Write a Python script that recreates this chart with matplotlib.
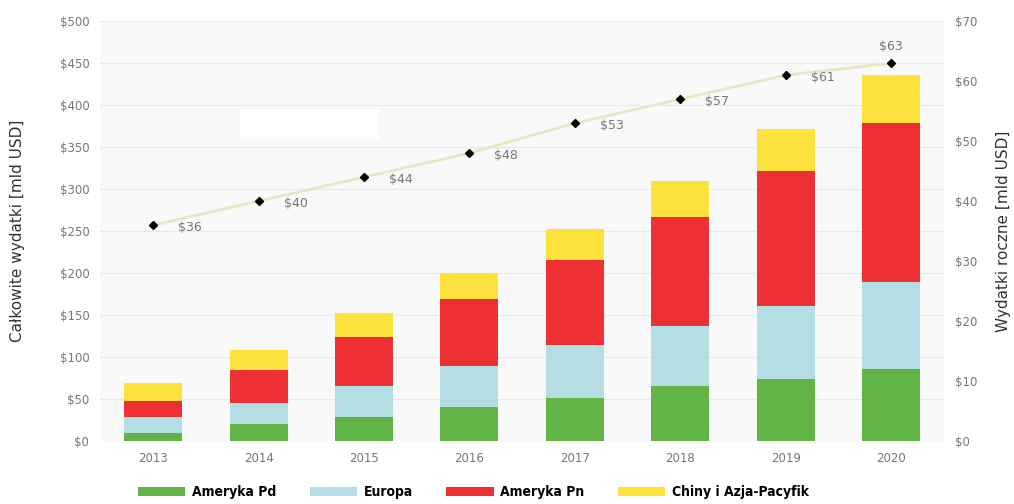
import numpy as np
import matplotlib
matplotlib.use("Agg")
import matplotlib.pyplot as plt
from matplotlib.patches import Rectangle
from matplotlib.font_manager import FontProperties

# dane
lata = ["2013", "2014", "2015", "2016", "2017", "2018", "2019", "2020"]
ameryka_pd = [9, 20, 29, 40, 51, 65, 74, 86]
europa = [19, 25, 37, 49, 63, 72, 87, 103]
ameryka_pn = [20, 40, 58, 80, 101, 130, 160, 190]
chiny_azja = [21, 23, 28, 31, 37, 43, 50, 57]
wydatki_roczne = [36, 40, 44, 48, 53, 57, 61, 63]

kolory = ["#62b446", "#b5dde4", "#ec3033", "#fde13c"]
serie = [ameryka_pd, europa, ameryka_pn, chiny_azja]
nazwy = ["Ameryka Pd", "Europa", "Ameryka Pn", "Chiny i Azja-Pacyfik"]

fig = plt.figure(figsize=(10.14, 5.04), dpi=100)
ax = fig.add_axes([0.099, 0.125, 0.832, 0.833])
ax.set_facecolor("#f9f9f9")

x = np.arange(len(lata))
dol = np.zeros(len(lata))
for s, k, n in zip(serie, kolory, nazwy):
    ax.bar(x, s, bottom=dol, width=0.55, color=k, label=n, zorder=2)
    dol += np.array(s)

ax.set_xlim(-0.5, 7.5)
ax.set_ylim(0, 500)
ax.set_yticks(np.arange(0, 501, 50))
ax.set_yticklabels(["${}".format(v) for v in range(0, 501, 50)])
ax.set_xticks(x)
ax.set_xticklabels(lata)
ax.grid(axis="y", color="#e8e8e8", linewidth=0.8, zorder=0)
for sp in ax.spines.values():
    sp.set_visible(False)
ax.tick_params(length=0, labelsize=8.5, labelcolor="#777777", pad=8)
ax.set_ylabel("Całkowite wydatki [mld USD]", fontsize=11, color="#333333", labelpad=25)

# biały prostokąt
ax.add_patch(Rectangle((0.165, 0.72), 0.165, 0.07, transform=ax.transAxes,
                       facecolor="white", edgecolor="none", zorder=1))

ax2 = ax.twinx()
ax2.set_ylim(0, 70)
ax2.set_yticks(np.arange(0, 71, 10))
ax2.set_yticklabels(["${}".format(v) for v in range(0, 71, 10)])
for sp in ax2.spines.values():
    sp.set_visible(False)
ax2.tick_params(length=0, labelsize=8.5, labelcolor="#777777", pad=8)
ax2.set_ylabel("Wydatki roczne [mld USD]", fontsize=11, color="#333333", labelpad=13)
ax2.plot(x, wydatki_roczne, color="#ece6c2", linewidth=2.0, zorder=3)
ax2.plot(x, wydatki_roczne, "D", color="black", markersize=4, zorder=4)
for i, v in enumerate(wydatki_roczne):
    if i == len(wydatki_roczne) - 1:
        ax2.annotate("${}".format(v), (x[i], v), xytext=(0, 7), textcoords="offset points",
                     ha="center", va="bottom", fontsize=9, color="#777777")
    else:
        ax2.annotate("${}".format(v), (x[i], v), xytext=(18, -2), textcoords="offset points",
                     ha="left", va="center", fontsize=9, color="#777777")

fp = FontProperties(family="DejaVu Sans", stretch="condensed", weight="bold", size=10)
fig.legend(*ax.get_legend_handles_labels(), loc="lower center", ncol=4,
           bbox_to_anchor=(0.467, -0.015), frameon=False, handlelength=3.4,
           handleheight=0.6, columnspacing=2.4, handletextpad=0.5, prop=fp)

fig.savefig("out.png", dpi=100, facecolor="white")
